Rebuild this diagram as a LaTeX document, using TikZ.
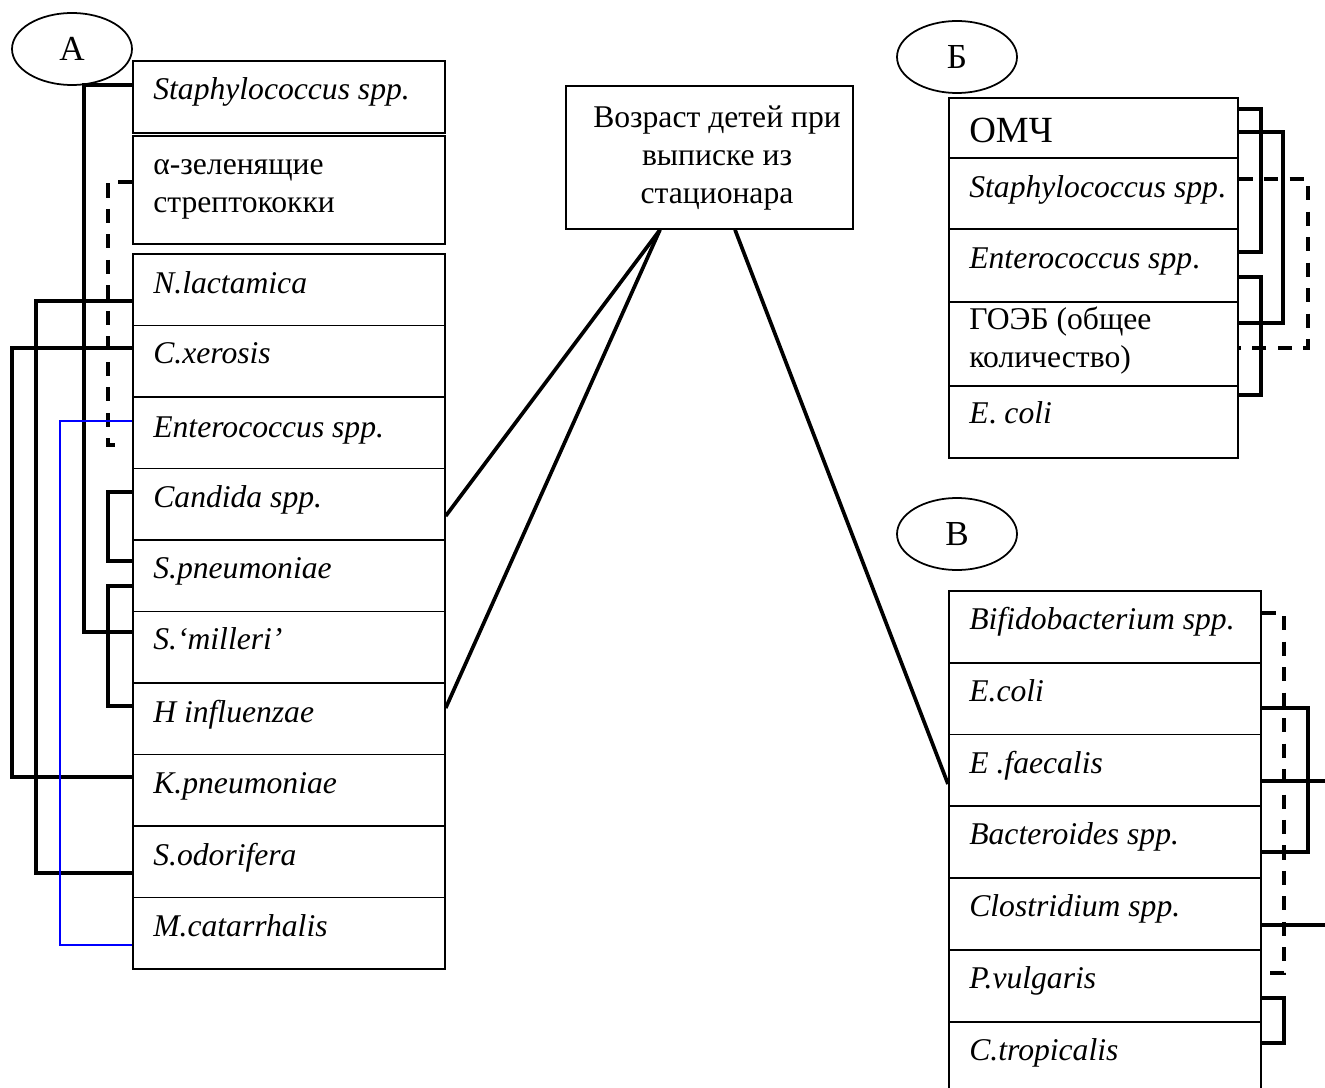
\documentclass[tikz,border=0pt]{standalone}
\usepackage{fontspec}
\setmainfont{Liberation Serif}
\usetikzlibrary{shapes.geometric}
\definecolor{ink}{RGB}{0, 0, 0}
\definecolor{blueline}{RGB}{0, 0, 255}

\begin{document}
\begin{tikzpicture}[x=0.02cm, y=-0.02cm,
  every node/.style={font=\fontsize{18}{21.5}\selectfont},
  cell/.style={draw=ink, line width=1pt, rectangle, anchor=north west, inner sep=0pt},
  celltext/.style={anchor=base west, inner sep=0pt, align=left},
  tag/.style={draw=ink, ellipse, line width=1pt, minimum width=2.4cm, minimum height=1.44cm,
    inner sep=0pt, font=\fontsize{20}{24}\selectfont},
  bond/.style={ink, line width=2.1pt},
  weak/.style={ink, line width=2.1pt, dash pattern=on 8pt off 6.5pt},
  odd/.style={blueline, line width=0.7pt}]
  \useasboundingbox (0, 0) rectangle (1325, 1088);
  \fill[white] (0, 0) rectangle (1325, 1088);

  % panel A
  \node[tag] (tagA) at (72, 49) {А};
  \foreach \i/\t/\h/\o/\txt in {
      1/60/72/40/\textit{Staphylococcus spp.},
      2/135/108/77/α-зеленящие\\стрептококки,
      3/253/71.5/40/\textit{N.lactamica},
      4/324.5/71.5/39/\textit{C.xerosis},
      5/396/71.5/41/\textit{Enterococcus spp.},
      6/467.5/71.5/40/\textit{Candida spp.},
      7/539/71.5/39/\textit{S.pneumoniae},
      8/610.5/71.5/39/\textit{S.‘milleri’},
      9/682/71.5/40/\textit{H influenzae},
      10/753.5/71.5/40/\textit{K.pneumoniae},
      11/825/71.5/40/\textit{S.odorifera},
      12/896.5/71.5/40/\textit{M.catarrhalis}} {
    \node[cell, minimum width=6.24cm, minimum height=\h*0.02cm] (a\i) at (132, \t) {};
    \node[celltext] (ta\i) at ([xshift=0.42cm, yshift=-\o*0.02cm]a\i.north west) {\txt};
  }

  \draw[bond] (a1.west |- 0, 85) -| (84, 632) -- (a8.west |- 0, 632);
  \coordinate (dA) at (123, 445);
  \draw[weak] (a2.west |- 0, 182) -| (108, 445) -- (dA);
  \draw[bond] (a3.west |- 0, 301) -| (36, 873) -- (a11.west |- 0, 873);
  \draw[bond] (a4.west |- 0, 348) -| (12, 777) -- (a10.west |- 0, 777);
  \draw[odd] (a5.west |- 0, 421) -| (60, 945) -- (a12.west |- 0, 945);
  \draw[bond] (a6.west |- 0, 492) -| (108, 561) -- (a7.west |- 0, 561);
  \draw[bond] (a7.west |- 0, 586) -| (108, 706) -- (a9.west |- 0, 706);

  % centre
  \node[cell, minimum width=5.74cm, minimum height=2.86cm] (cb) at (565, 85) {};
  \node[align=center, inner sep=0pt] (cbt) at (717, 158) {Возраст детей при\\выписке из\\стационара};

  % panel B
  \node[tag] (tagB) at (957, 57) {Б};
  \foreach \i/\t/\h/\o/\txt in {
      1/97/60/45/{\fontsize{21}{25}\selectfont ОМЧ},
      2/157/71/40/\textit{Staphylococcus spp}.,
      3/228/73/40/\textit{Enterococcus spp}.,
      4/301/84/66/ГОЭБ (общее\\количество),
      5/385/72/38/\textit{E}. \textit{coli}} {
    \node[cell, minimum width=5.78cm, minimum height=\h*0.02cm] (b\i) at (948, \t) {};
    \node[celltext] (tb\i) at ([xshift=0.42cm, yshift=-\o*0.02cm]b\i.north west) {\txt};
  }

  \draw[bond] (b1.east |- 0, 109) -| (1261, 252) -- (b3.east |- 0, 252);
  \draw[bond] (b1.east |- 0, 132) -| (1283, 323) -- (b4.east |- 0, 323);
  \draw[weak] (b2.east |- 0, 179) -| (1308, 348) -- (b4.east |- 0, 348);
  \draw[bond] (b3.east |- 0, 277) -| (1261, 395) -- (b5.east |- 0, 395);

  % panel V
  \node[tag] (tagC) at (957, 534) {В};
  \foreach \i/\t/\txt in {
      1/590/Bifidobacterium spp.,
      2/661.8/E.coli,
      3/733.6/E .faecalis,
      4/805.4/Bacteroides spp.,
      5/877.2/Clostridium spp.,
      6/949/P.vulgaris,
      7/1020.8/C.tropicalis} {
    \node[cell, minimum width=6.24cm, minimum height=1.436cm] (v\i) at (948, \t) {};
    \node[celltext, font=\fontsize{18}{21.5}\selectfont\itshape] (tv\i) at ([xshift=0.42cm, yshift=-0.79cm]v\i.north west) {\txt};
  }

  \coordinate (eV1) at (1330, 781);
  \coordinate (eV2) at (1330, 925);
  \draw[weak] (v1.east |- 0, 613) -| (1284, 973) -- (v6.east |- 0, 973);
  \draw[bond] (v2.east |- 0, 708) -| (1308, 852) -- (v4.east |- 0, 852);
  \draw[bond] (v3.east |- 0, 781) -- (eV1);
  \draw[bond] (v5.east |- 0, 925) -- (eV2);
  \draw[bond] (v6.east |- 0, 998) -| (1284, 1043) -- (v7.east |- 0, 1043);

  % links to the centre box
  \draw[bond] (cb.south -| 660, 0) -- (a6.east |- 0, 516);
  \draw[bond] (cb.south -| 660, 0) -- (a9.east |- 0, 708);
  \draw[bond] (cb.south -| 735, 0) -- (v3.west |- 0, 784);
\end{tikzpicture}
\end{document}
